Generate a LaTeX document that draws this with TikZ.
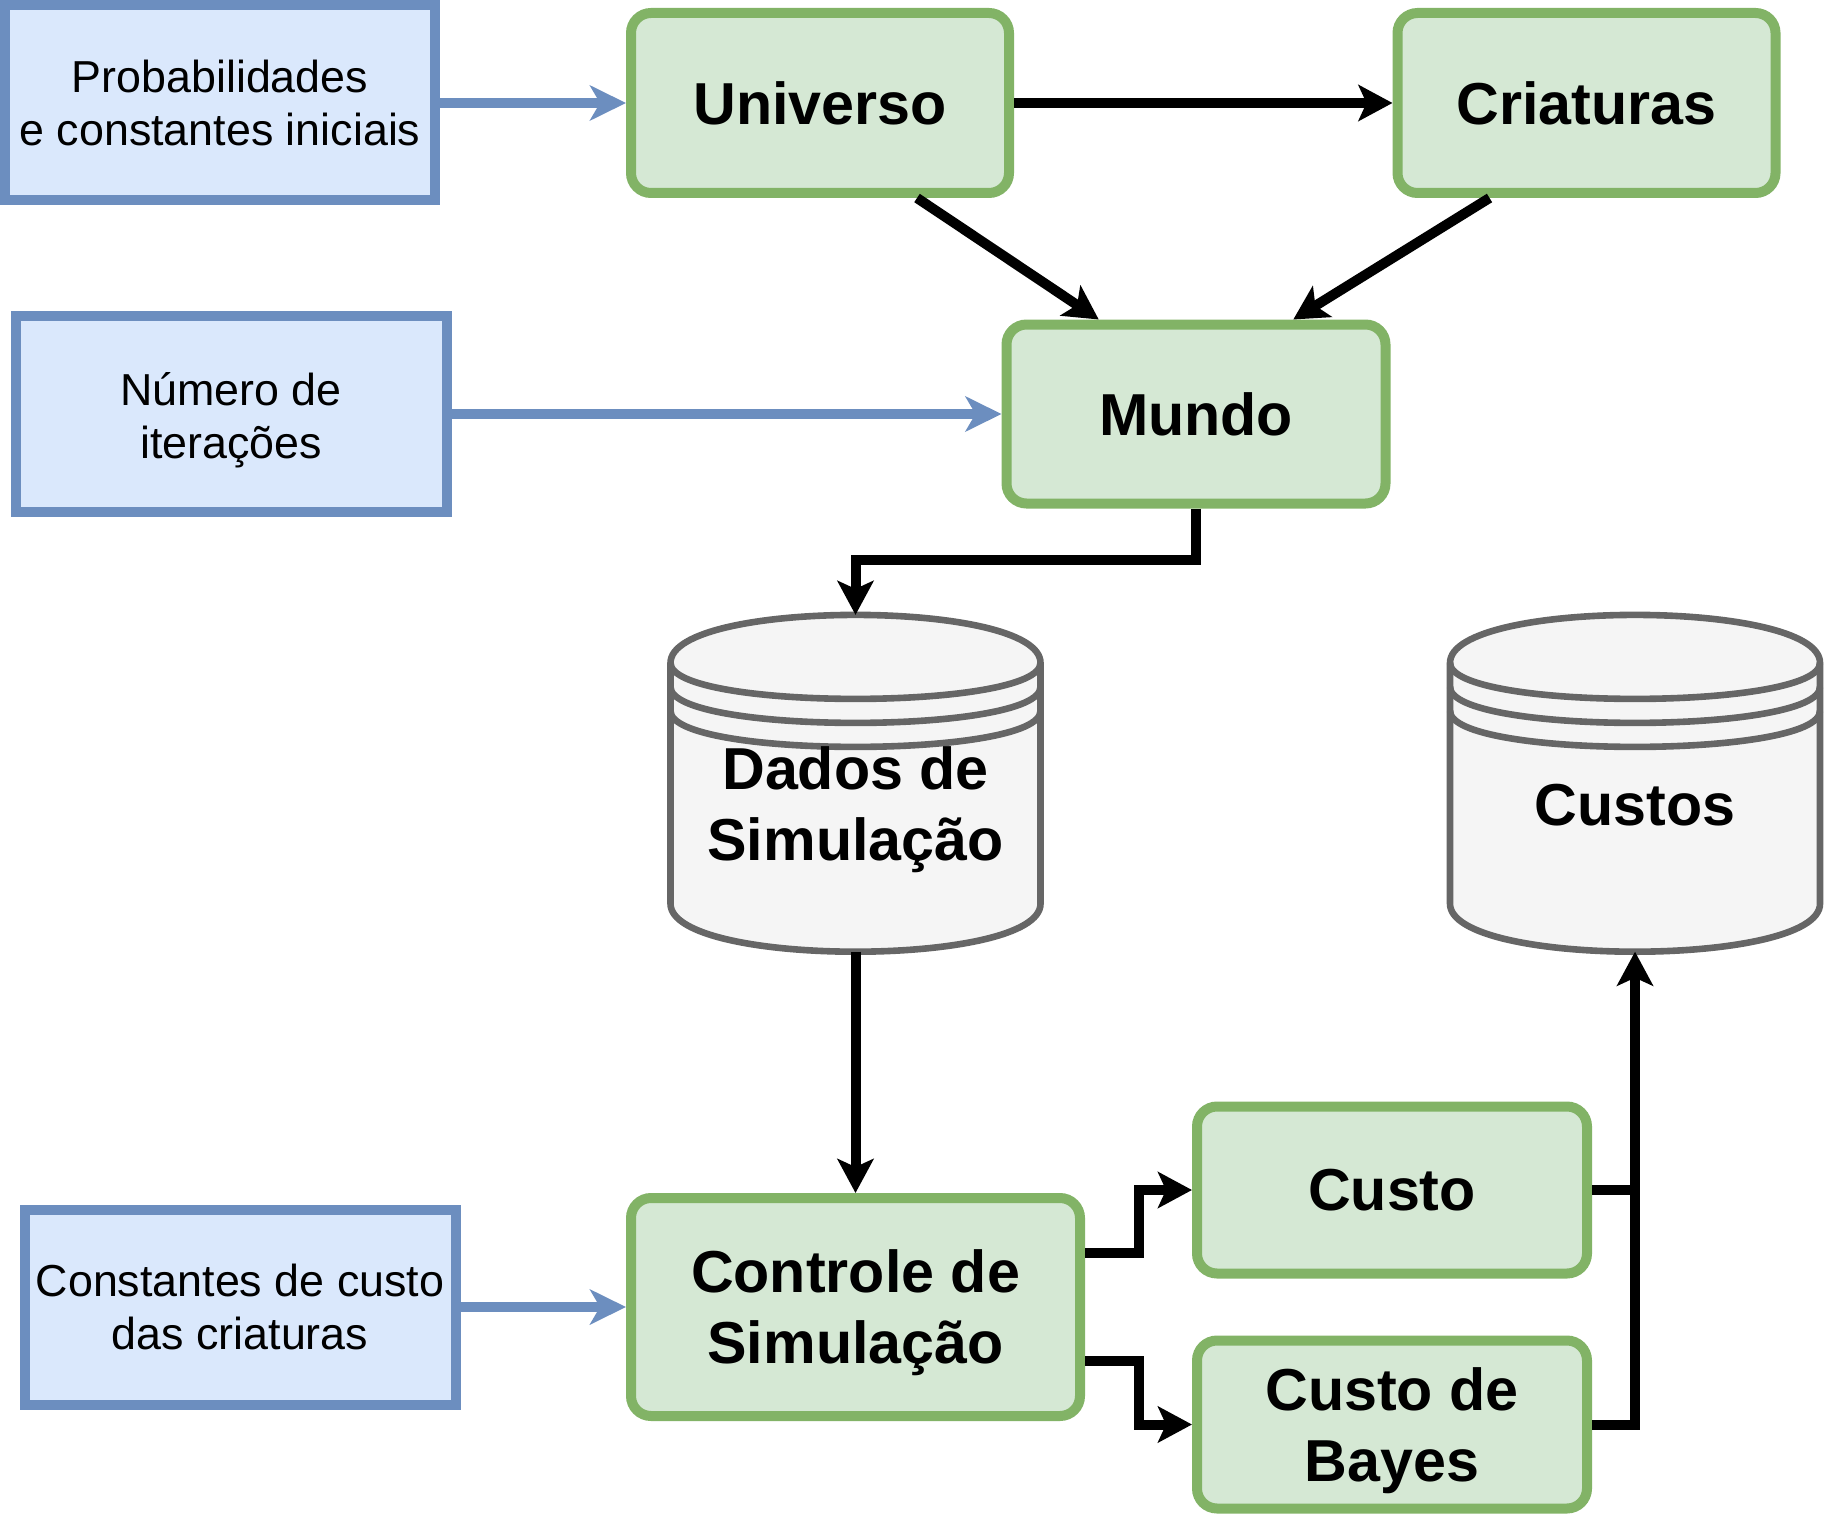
\documentclass[tikz,border=0pt]{standalone}
\usepackage{fontspec}
\setmainfont{Liberation Sans}
\usetikzlibrary{arrows.meta, positioning, calc, backgrounds}

\definecolor{inblue}{HTML}{6C8EBF}
\definecolor{inbluefill}{HTML}{DAE8FC}
\definecolor{procgreen}{HTML}{82B366}
\definecolor{procgreenfill}{HTML}{D5E8D4}
\definecolor{storegray}{HTML}{666666}
\definecolor{storefill}{HTML}{F5F5F5}

% taller first line, pushes a two-line label down a little
\newcommand{\tstrut}{\rule{0pt}{27.5pt}}

% cylinder with rings, drawn behind the node of the same name
\newcommand{\datastore}[1]{%
  \begin{pgfonlayer}{background}
    \path[storebody] let \p1=(#1.north west), \p2=(#1.south east) in
      (\x1,{\y1-24pt}) .. controls (\x1,{\y1+8pt}) and (\x2,{\y1+8pt}) .. (\x2,{\y1-24pt})
      -- (\x2,{\y2+24pt}) .. controls (\x2,{\y2-8pt}) and (\x1,{\y2-8pt}) .. (\x1,{\y2+24pt}) -- cycle;
    \foreach \a in {24,36,48}
      \draw[storeline] let \p1=(#1.north west), \p2=(#1.south east) in
        (\x1,{\y1-\a*1pt}) .. controls (\x1,{\y1-(\a+24)*1pt}) and (\x2,{\y1-(\a+24)*1pt}) .. (\x2,{\y1-\a*1pt});
  \end{pgfonlayer}%
}

\begin{document}
\begin{tikzpicture}[
    x=0.5pt, y=-0.5pt,
    inbox/.style={draw=inblue, fill=inbluefill, line width=5pt, align=center, inner sep=0pt, font=\fontsize{22.4}{26.5}\selectfont},
    procbox/.style={draw=procgreen, fill=procgreenfill, line width=5pt, rounded corners=10pt, align=center, inner sep=0pt, font=\bfseries\fontsize{29.6}{35.5}\selectfont},
    store/.style={inner sep=0pt, outer sep=0pt, minimum width=185pt, minimum height=168.4pt},
    storetext/.style={align=center, font=\bfseries\fontsize{29.6}{35.5}\selectfont},
    storebody/.style={draw=storegray, fill=storefill, line width=3.3pt},
    storeline/.style={draw=storegray, line width=3.3pt},
    inarrow/.style={draw=inblue, line width=5pt, -{Stealth[length=18pt, width=17.5pt, inset=5pt]}},
    flowarrow/.style={line width=5pt, -{Stealth[length=17pt, width=18pt, inset=4pt]}},
    flowline/.style={line width=5pt}
]
    \useasboundingbox (0,0) rectangle (1824,1514);

    % Inputs (blue)
    \node[inbox, minimum width=215pt, minimum height=97.5pt] (prob) at (220,103) {Probabilidades\\e constantes iniciais};
    \node[inbox, minimum width=215.5pt, minimum height=98pt] (iter) at (231,414) {\rule{0pt}{23pt}Número de\\iterações};
    \node[inbox, minimum width=215.5pt, minimum height=97.5pt] (custconst) at (240,1307) {Constantes de custo\\das criaturas};

    % Processes (green)
    \node[procbox, minimum width=189pt, minimum height=90pt] (univ) at (820,103) {Universo};
    \node[procbox, minimum width=189pt, minimum height=90pt] (criat) at (1586.5,103) {Criaturas};
    \node[procbox, minimum width=189.5pt, minimum height=89.5pt] (mundo) at (1196,414) {Mundo};
    \node[procbox, minimum width=224.5pt, minimum height=109pt] (ctrl) at (855.5,1307) {\tstrut Controle de\\Simulação};
    \node[procbox, minimum width=195pt, minimum height=83.5pt] (custo) at (1392,1190) {Custo};
    \node[procbox, minimum width=195pt, minimum height=84pt] (bayes) at (1392,1424.5) {\tstrut Custo de\\Bayes};

    % Data stores
    \node[store, label={[storetext, yshift=-13pt]center:{Dados de\\Simulação}}] (dados) at (855.5,783.3) {};
    \node[store, label={[storetext, yshift=-10.8pt]center:Custos}] (custos) at (1635,783.3) {};
    \datastore{dados}
    \datastore{custos}

    % Blue arrows - inputs
    \draw[inarrow] (prob) -- (univ);
    \draw[inarrow] (iter) -- (mundo);
    \draw[inarrow] (custconst) -- (ctrl);

    % Black arrows - flow
    \draw[flowarrow] (univ) -- (criat);
    \draw[flowarrow] ($(univ.south west)!0.75!(univ.south east)$) -- ($(mundo.north west)!0.25!(mundo.north east)$);
    \draw[flowarrow] ($(criat.south west)!0.25!(criat.south east)$) -- ($(mundo.north west)!0.75!(mundo.north east)$);
    \draw[flowarrow] (mundo.south) -- ++(0,51) -| (dados.north);
    \draw[flowarrow] (dados) -- (ctrl);
    \draw[flowarrow] ([yshift=27pt]ctrl.east) -- ++(54,0) |- (custo);
    \draw[flowarrow] ([yshift=-27pt]ctrl.east) -- ++(54,0) |- (bayes);
    \draw[flowline] (custo) -- (custo -| custos.south);
    \draw[flowarrow] (bayes) -| (custos.south);
\end{tikzpicture}
\end{document}
